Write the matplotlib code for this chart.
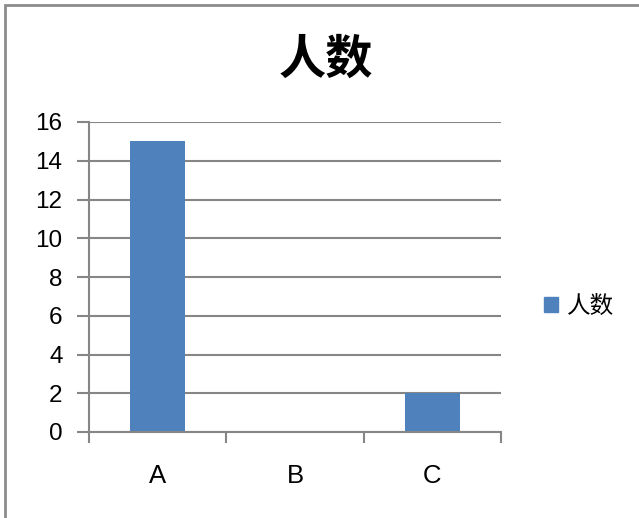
import matplotlib
matplotlib.use("Agg")
import matplotlib.pyplot as plt
from matplotlib.patches import Rectangle, Patch
import numpy as np

categories = ["A", "B", "C"]
values = [15, 0, 2]
series_name = "人数"
title = "人数"
yticks = [0, 2, 4, 6, 8, 10, 12, 14, 16]

plt.rcParams['font.family'] = ['Liberation Sans', 'Noto Sans CJK SC', 'DejaVu Sans']

fig = plt.figure(figsize=(6.39, 5.18), dpi=100)
ax = fig.add_axes([89/639, 1-432/518, 412/639, 310/518])

grid_c = "#868686"
bar_c = "#4F81BD"

x = np.arange(len(categories))
ax.bar(x, values, width=0.4, color=bar_c, zorder=3, label=series_name)

ax.set_xlim(-0.5, len(categories) - 0.5)
ax.set_ylim(0, 16)
ax.set_yticks(yticks)
ax.set_yticklabels([str(v) for v in yticks], fontsize=17.5)
ax.yaxis.grid(True, color=grid_c, linewidth=1.5, zorder=0)
ax.tick_params(axis='y', length=9, width=1.5, color=grid_c, pad=10)

ax.set_xticks(x)
ax.set_xticklabels(categories, fontsize=18.5)
ax.tick_params(axis='x', which='major', length=0, pad=23)
ax.set_xticks(np.arange(len(categories) + 1) - 0.5, minor=True)
ax.tick_params(axis='x', which='minor', length=8, width=1.5, color=grid_c)

for s in ['top', 'right']:
    ax.spines[s].set_visible(False)
for s in ['left', 'bottom']:
    ax.spines[s].set_color(grid_c)
    ax.spines[s].set_linewidth(1.5)
    ax.spines[s].set_zorder(4)

fig.text(326/639, 1-60/518, title, fontsize=34, fontweight='bold',
         family=['Noto Sans CJK SC'], ha='center', va='center')

handle = Patch(facecolor=bar_c, edgecolor=bar_c)
fig.legend([handle], [series_name], loc='center left', bbox_to_anchor=(532/639, 1-306/518),
           frameon=False, prop={'family': ['Noto Sans CJK SC'], 'size': 17, 'weight': 'medium'},
           handlelength=0.6, handleheight=0.6, handletextpad=0.4, borderpad=0)

fig.patches.append(Rectangle((5/639, -0.1), 1.2, 1 - 5/518 + 0.1, transform=fig.transFigure,
                             fill=False, edgecolor="#8C8C8C", linewidth=2))

fig.savefig("out.png", dpi=100)
